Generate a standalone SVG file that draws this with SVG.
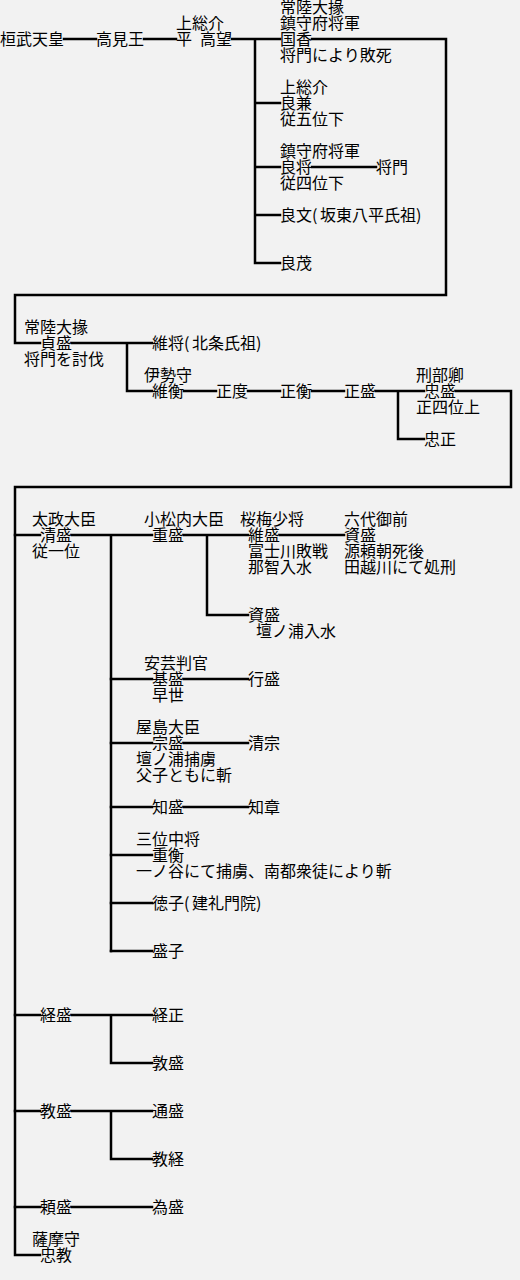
<svg xmlns="http://www.w3.org/2000/svg" width="520" height="1280" viewBox="0 0 520 1280">
<style>
text{font-family:"Noto Sans CJK JP","Noto Sans CJK SC",sans-serif;font-size:16px;fill:#000}
.c{fill:none;stroke:#000;stroke-width:2.5;stroke-linejoin:miter;stroke-linecap:square}
</style>
<rect width="520" height="1280" fill="#f2f2f2"/>
<g id="connectors" class="c">
<path d="M64 39H96M144 39H176M232 39H280M255 39V263M255 103H280M255 167H280M255 215H280M255 263H280"/>
<path d="M312 39H446V295H15V343H40"/>
<path d="M312 167H376"/>
<path d="M72 343H152M127 343V391H152"/>
<path d="M184 391H216M248 391H280M312 391H344M376 391H424M398 391V439H424"/>
<path d="M456 391H511V487H15V1255H40"/>
<path d="M15 535H40M72 535H152M111 535V951"/>
<path d="M184 535H248M207 535V615H248M280 535H344"/>
<path d="M111 679H152M184 679H248M111 743H152M184 743H248M111 807H152M184 807H248M111 855H152M111 903H152M111 951H152"/>
<path d="M15 1015H40M72 1015H152M111 1015V1063H152"/>
<path d="M15 1111H40M72 1111H152M111 1111V1159H152"/>
<path d="M15 1207H40M72 1207H152"/>
</g>
<g id="kanmu"><text x="0" y="45">桓武天皇</text></g>
<g id="takami"><text x="96" y="45">高見王</text></g>
<g id="takamochi"><text x="176" y="29">上総介</text><text y="45"><tspan x="176">平</tspan><tspan x="200">高望</tspan></text></g>
<g id="kunika"><text x="280" y="13">常陸大掾</text><text x="280" y="29">鎮守府将軍</text><text x="280" y="45">国香</text><text x="280" y="61">将門により敗死</text></g>
<g id="yoshikane"><text x="280" y="93">上総介</text><text x="280" y="109">良兼</text><text x="280" y="125">従五位下</text></g>
<g id="yoshimasa"><text x="280" y="157">鎮守府将軍</text><text x="280" y="173">良将</text><text x="280" y="189">従四位下</text></g>
<g id="masakado"><text x="376" y="173">将門</text></g>
<g id="yoshifumi"><text y="221"><tspan x="280">良文(</tspan><tspan x="320">坂東八平氏祖)</tspan></text></g>
<g id="yoshimochi"><text x="280" y="269">良茂</text></g>
<g id="sadamori"><text x="24" y="333">常陸大掾</text><text x="40" y="349">貞盛</text><text x="24" y="365">将門を討伐</text></g>
<g id="koremasa"><text y="349"><tspan x="152">維将(</tspan><tspan x="192">北条氏祖)</tspan></text></g>
<g id="korehira"><text x="144" y="381">伊勢守</text><text x="152" y="397">維衡</text></g>
<g id="masanori"><text x="216" y="397">正度</text></g>
<g id="masahira"><text x="280" y="397">正衡</text></g>
<g id="masamori"><text x="344" y="397">正盛</text></g>
<g id="tadamori"><text x="416" y="381">刑部卿</text><text x="424" y="397">忠盛</text><text x="416" y="413">正四位上</text></g>
<g id="tadamasa"><text x="424" y="445">忠正</text></g>
<g id="kiyomori"><text x="32" y="525">太政大臣</text><text x="40" y="541">清盛</text><text x="32" y="557">従一位</text></g>
<g id="shigemori"><text x="144" y="525">小松内大臣</text><text x="152" y="541">重盛</text></g>
<g id="koremori"><text x="240" y="525">桜梅少将</text><text x="248" y="541">維盛</text><text x="248" y="557">富士川敗戦</text><text x="248" y="573">那智入水</text></g>
<g id="rokudai"><text x="344" y="525">六代御前</text><text x="344" y="541">資盛</text><text x="344" y="557">源頼朝死後</text><text x="344" y="573">田越川にて処刑</text></g>
<g id="sukemori"><text x="248" y="621">資盛</text><text x="256" y="637">壇ノ浦入水</text></g>
<g id="motomori"><text x="144" y="669">安芸判官</text><text x="152" y="685">基盛</text><text x="152" y="701">早世</text></g>
<g id="yukimori"><text x="248" y="685">行盛</text></g>
<g id="munemori"><text x="136" y="733">屋島大臣</text><text x="152" y="749">宗盛</text><text x="136" y="765">壇ノ浦捕虜</text><text x="136" y="781">父子ともに斬</text></g>
<g id="kiyomune"><text x="248" y="749">清宗</text></g>
<g id="tomomori"><text x="152" y="813">知盛</text></g>
<g id="tomoakira"><text x="248" y="813">知章</text></g>
<g id="shigehira"><text x="136" y="845">三位中将</text><text x="152" y="861">重衡</text><text x="136" y="877">一ノ谷にて捕虜、南都衆徒により斬</text></g>
<g id="tokuko"><text y="909"><tspan x="152">徳子(</tspan><tspan x="192">建礼門院)</tspan></text></g>
<g id="moriko"><text x="152" y="957">盛子</text></g>
<g id="tsunemori"><text x="40" y="1021">経盛</text></g>
<g id="tsunemasa"><text x="152" y="1021">経正</text></g>
<g id="atsumori"><text x="152" y="1069">敦盛</text></g>
<g id="norimori"><text x="40" y="1117">教盛</text></g>
<g id="michimori"><text x="152" y="1117">通盛</text></g>
<g id="noritsune"><text x="152" y="1165">教経</text></g>
<g id="yorimori"><text x="40" y="1213">頼盛</text></g>
<g id="tamemori"><text x="152" y="1213">為盛</text></g>
<g id="tadanori"><text x="32" y="1245">薩摩守</text><text x="40" y="1261">忠教</text></g>
</svg>
